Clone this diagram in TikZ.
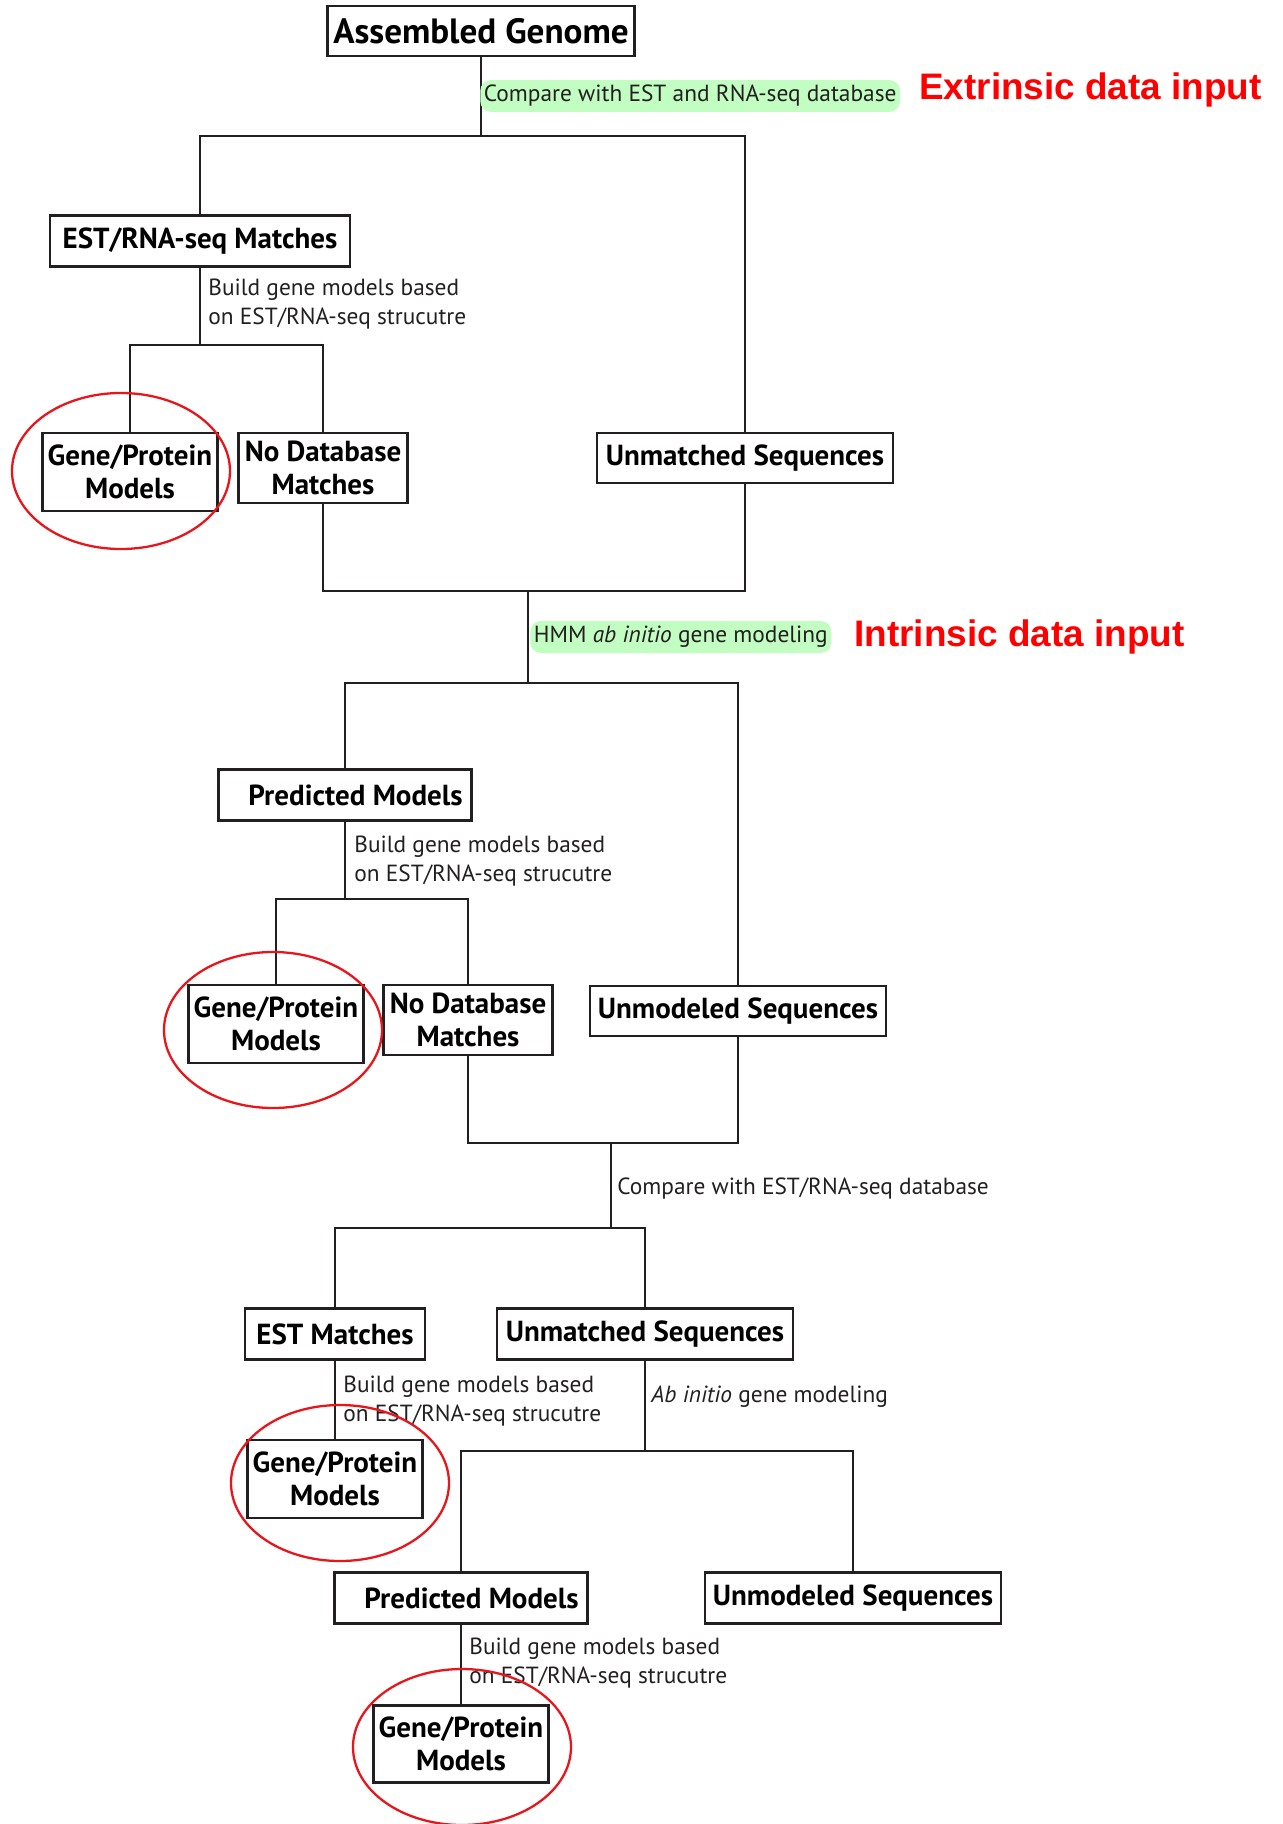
\documentclass[tikz,border=0pt]{standalone}
\usepackage{fontspec}
\setmainfont{PT Sans}
\newfontfamily\arialfont{Liberation Sans}
\usepackage{tikz}
\usetikzlibrary{positioning}
\definecolor{markgreen}{HTML}{C2FDC2}
\definecolor{ringred}{HTML}{E8151B}
\definecolor{boxline}{HTML}{231F20}
\tikzset{
  stagebox/.style={draw=boxline,line width=1.4pt,align=center,inner sep=0pt,
    minimum width=5.92cm,minimum height=1cm,font=\fontsize{16.5}{18.5}\selectfont\bfseries},
  modelbox/.style={stagebox,minimum width=3.5cm,minimum height=1.56cm},
  nodbbox/.style={stagebox,minimum width=3.38cm,minimum height=1.4cm},
  branch/.style={draw=boxline,line width=1.2pt},
  steplabel/.style={anchor=west,align=left,inner sep=0pt,
    font=\fontsize{13.3}{16.5}\selectfont,text=boxline},
  greenlabel/.style={steplabel,fill=markgreen,rounded corners=6pt,inner xsep=2pt,inner ysep=3pt},
  inputlabel/.style={anchor=west,inner sep=0pt,text=red,
    font=\fontsize{21}{23}\selectfont\arialfont\bfseries},
  ring/.style={draw=ringred,line width=1.3pt}
}

\begin{document}
\begin{tikzpicture}[x=0.02cm,y=-0.02cm]
  \useasboundingbox (0,0) rectangle (1282,1824);

  % extrinsic stage
  \node[stagebox,minimum width=6.14cm,font=\fontsize{20}{22}\selectfont\bfseries] (genome) at (481,31) {Assembled Genome};
  \node[stagebox,minimum width=6cm,minimum height=1.02cm] (estrna) at (200,241) {EST/RNA-seq Matches};
  \node[modelbox] (gpone) at (130,472) {Gene/Protein\\Models};
  \node[nodbbox] (nodbone) at (323,468) {No Database\\Matches};
  \node[stagebox] (unmone) at (745,458) {Unmatched Sequences};

  \coordinate (hubone) at (481,136);
  \coordinate (hubtwo) at (200,345);
  \coordinate (mergeone) at (528,591);

  \draw[branch] (genome.south) -- (hubone);
  \draw[branch] (estrna.north) |- (hubone) -| (unmone.north);
  \draw[branch] (estrna.south) -- (hubtwo);
  \draw[branch] (gpone.north) |- (hubtwo) -| (nodbone.north);
  \draw[branch] (nodbone.south) |- (mergeone) -| (unmone.south);

  \node[greenlabel] (cmpone) at (480,96) {Compare with EST and RNA-seq database};
  \node[inputlabel] (extr) at (919,90) {Extrinsic data input};
  \node[steplabel] (buildone) at (208,304) {Build gene models based\\on EST/RNA-seq strucutre};

  % intrinsic stage
  \node[stagebox,minimum width=5.06cm,minimum height=1.02cm] (predone) at (345,795) {\hspace*{12pt}Predicted Models};
  \node[modelbox] (gptwo) at (276,1024) {Gene/Protein\\Models};
  \node[nodbbox] (nodbtwo) at (468,1020) {No Database\\Matches};
  \node[stagebox] (unmodone) at (738,1011) {Unmodeled Sequences};

  \coordinate (hubthree) at (528,683);
  \coordinate (hubfour) at (345,899);
  \coordinate (mergetwo) at (611,1143);

  \draw[branch] (mergeone) -- (hubthree);
  \draw[branch] (predone.north) |- (hubthree) -| (unmodone.north);
  \draw[branch] (predone.south) -- (hubfour);
  \draw[branch] (gptwo.north) |- (hubfour) -| (nodbtwo.north);
  \draw[branch] (nodbtwo.south) |- (mergetwo) -| (unmodone.south);

  \node[greenlabel] (hmm) at (530,637) {HMM \textit{ab initio} gene modeling};
  \node[inputlabel] (intr) at (854,637) {Intrinsic data input};
  \node[steplabel] (buildtwo) at (354,861) {Build gene models based\\on EST/RNA-seq strucutre};

  % second pass
  \node[stagebox,minimum width=3.6cm,minimum height=1.02cm] (estm) at (335,1334) {EST Matches};
  \node[stagebox,minimum height=1.02cm] (unmtwo) at (645,1334) {Unmatched Sequences};
  \node[modelbox] (gpthree) at (335,1479) {Gene/Protein\\Models};
  \node[stagebox,minimum width=5.06cm,minimum height=1.02cm] (predtwo) at (461,1598) {\hspace*{12pt}Predicted Models};
  \node[stagebox,minimum height=1.02cm] (unmodtwo) at (853,1598) {Unmodeled Sequences};
  \node[modelbox,minimum height=1.54cm] (gpfour) at (461,1744) {Gene/Protein\\Models};

  \coordinate (hubfive) at (611,1228);
  \coordinate (hubsix) at (645,1451);

  \draw[branch] (mergetwo) -- (hubfive);
  \draw[branch] (estm.north) |- (hubfive) -| (unmtwo.north);
  \draw[branch] (estm.south) -- (gpthree.north);
  \draw[branch] (unmtwo.south) -- (hubsix);
  \draw[branch] (predtwo.north) |- (hubsix) -| (unmodtwo.north);
  \draw[branch] (predtwo.south) -- (gpfour.north);

  \node[steplabel] (cmptwo) at (617,1189) {Compare with EST/RNA-seq database};
  \node[steplabel] (buildthree) at (343,1401) {Build gene models based\\on EST/RNA-seq strucutre};
  \node[steplabel] (abin) at (651,1397) {\textit{Ab initio} gene modeling};
  \node[steplabel] (buildfour) at (469,1663) {Build gene models based\\on EST/RNA-seq strucutre};

  % rings round the final models
  \draw[ring] (121,471) ellipse [x radius=109,y radius=78];
  \draw[ring] (273,1030) ellipse [x radius=109,y radius=78];
  \draw[ring] (340,1483) ellipse [x radius=109,y radius=78];
  \draw[ring] (462,1747) ellipse [x radius=109,y radius=78];
\end{tikzpicture}
\end{document}
